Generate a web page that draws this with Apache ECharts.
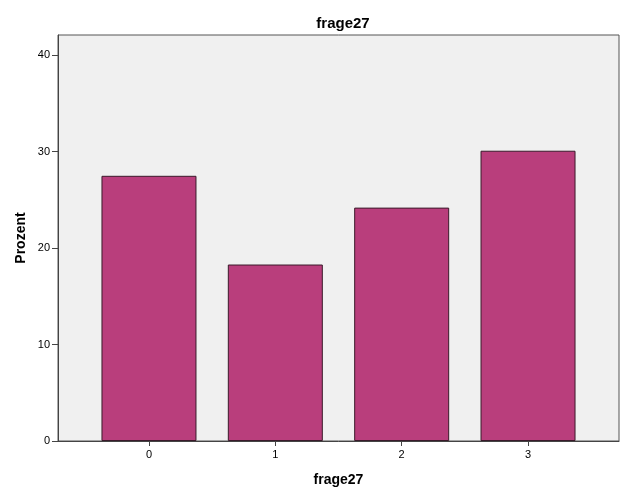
<!DOCTYPE html>
<html><head><meta charset="utf-8">
<script src="https://cdn.jsdelivr.net/npm/echarts@6/dist/echarts.min.js"></script>
<style>html,body{margin:0;padding:0;background:#fff}#c{width:626px;height:501px}</style>
</head><body><div id="c"></div>
<script>
const categories = [0, 1, 2, 3];
const values = [27.5, 18.3, 24.2, 30.1];
const yTicks = [0, 10, 20, 30, 40];
const titleText = 'frage27';
const xName = 'frage27';
const yName = 'Prozent';

const chart = echarts.init(document.getElementById('c'));
const font = 'Liberation Sans, Arial, sans-serif';
chart.setOption({
  animation: false,
  title: { text: titleText, left: 338, top: 11, textAlign: 'center',
    textStyle: { fontFamily: font, fontSize: 15, fontWeight: 'bold', color: '#000' } },
  grid: { left: 58, right: 7, top: 35, bottom: 60, show: true,
    backgroundColor: '#f0f0f0', borderColor: '#555', borderWidth: 1 },
  xAxis: {
    type: 'value', min: -0.72, max: 3.72,
    name: xName, nameLocation: 'middle', nameGap: 32,
    nameTextStyle: { fontFamily: font, fontSize: 14, fontWeight: 'bold', color: '#000' },
    axisLine: { show: true, onZero: false, lineStyle: { color: '#444', width: 1 } },
    axisTick: { show: true, length: 5, lineStyle: { color: '#444' }, customValues: categories },
    axisLabel: { fontFamily: font, fontSize: 11, color: '#000', margin: 8, customValues: categories,
      formatter: v => String(v) },
    splitLine: { show: false }
  },
  yAxis: {
    type: 'value', min: 0, max: 42.1,
    name: yName, nameLocation: 'middle', nameGap: 30, nameRotate: 90, nameMoveOverlap: false,
    nameTextStyle: { fontFamily: font, fontSize: 14, fontWeight: 'bold', color: '#000' },
    axisLine: { show: true, onZero: false, lineStyle: { color: '#444', width: 1 } },
    axisTick: { show: true, length: 6, inside: false, lineStyle: { color: '#444' }, customValues: yTicks },
    axisLabel: { fontFamily: font, fontSize: 11, color: '#000', margin: 8, customValues: yTicks },
    splitLine: { show: false }
  },
  series: [{
    type: 'bar',
    barWidth: 95,
    data: categories.map((c, i) => [c, values[i]]),
    itemStyle: { color: '#b93e7c', borderColor: '#3a1a2a', borderWidth: 1 }
  }]
});
</script>
</body></html>
